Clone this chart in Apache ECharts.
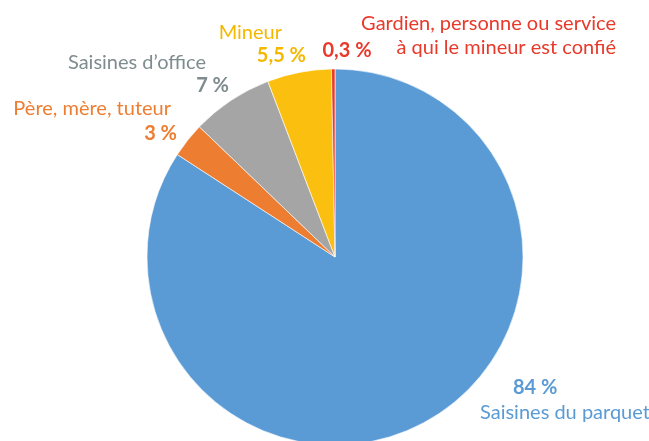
<!DOCTYPE html>
<html>
<head>
<meta charset="utf-8">
<script src="https://cdn.jsdelivr.net/npm/echarts@6/dist/echarts.min.js"></script>
<style>
  html, body { margin: 0; padding: 0; background: #fff; }
  #chart { width: 649px; height: 441px; }
</style>
</head>
<body>
<div id="chart"></div>
<script>
// data
const categories = [
  'Saisines du parquet',
  'Père, mère, tuteur',
  'Saisines d\u2019office',
  'Mineur',
  'Gardien, personne ou service\nà qui le mineur est confié'
]
const shares = [84, 3, 7, 5.5, 0.3]
const sliceColors = ['#5B9BD5', '#ED7D31', '#A5A5A5', '#FBBF10', '#E8392B']
const textColors = ['#5B9BD5', '#ED7D31', '#7F8C8F', '#F5B800', '#E8392B']

// label anchors: [x, y, align]
const labelPos = [
  [480, 400, 'left'],
  [177, 121, 'right'],
  [229, 74, 'right'],
  [306, 44, 'right'],
  [616, 36, 'right']
]

const FONT = 'Lato'
const NAME_SIZE = 20
const VAL_SIZE = 20

function fmt(v) {
  return String(v).replace('.', ',') + ' %'
}

const chart = echarts.init(document.getElementById('chart'))

chart.setOption({
  animation: false,
  series: [{
    type: 'pie',
    center: [335, 257],
    radius: 188,
    startAngle: 90,
    clockwise: true,
    itemStyle: { borderColor: '#fff', borderWidth: 0.6 },
    labelLine: { show: false },
    label: {
      show: true,
      overflow: 'none',
      fontFamily: FONT,
      formatter: function(p) {
        const i = p.dataIndex
        if (i === 0) return '{v|' + fmt(p.value) + '}\n{n|' + p.name + '}'
        if (i === 4) {
          const parts = p.name.split('\n')
          return '{n|' + parts[0] + '}\n{v2|' + fmt(p.value) + '}{n|' + parts[1] + '}'
        }
        return '{n|' + p.name + '}\n{v|' + fmt(p.value) + '}'
      }
    },
    labelLayout: function(params) {
      const p = labelPos[params.dataIndex]
      return { x: p[0], y: p[1], align: p[2], verticalAlign: 'middle' }
    },
    data: categories.map(function(name, i) {
      const c = textColors[i]
      const lh = i === 1 ? 25 : 23
      let rich
      if (i === 0) {
        rich = {
          v: { color: c, fontFamily: FONT, fontSize: VAL_SIZE, fontWeight: 'bold', lineHeight: 25, padding: [0, 0, 0, 33] },
          n: { color: c, fontFamily: FONT, fontSize: NAME_SIZE, lineHeight: 25 }
        }
      } else if (i === 4) {
        rich = {
          v2: { color: c, fontFamily: FONT, fontSize: VAL_SIZE, fontWeight: 'bold', lineHeight: 24, padding: [6, 25, 0, 0] },
          n: { color: c, fontFamily: FONT, fontSize: NAME_SIZE, lineHeight: 24 }
        }
      } else {
        rich = {
          v: { color: c, fontFamily: FONT, fontSize: VAL_SIZE, fontWeight: 'bold', lineHeight: lh },
          n: { color: c, fontFamily: FONT, fontSize: NAME_SIZE, lineHeight: lh, padding: [0, i === 1 ? 6 : (i === 2 ? 23 : 24), 0, 0] }
        }
      }
      return {
        name: name,
        value: shares[i],
        itemStyle: { color: sliceColors[i] },
        label: { rich: rich }
      }
    })
  }]
})
</script>
</body>
</html>
